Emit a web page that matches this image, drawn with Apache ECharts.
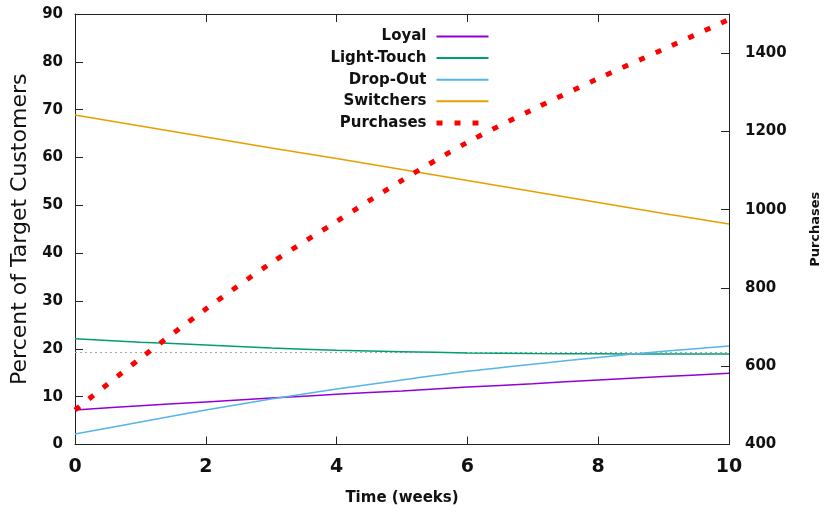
<!DOCTYPE html>
<html>
<head>
<meta charset="utf-8">
<title>Customer segments over time</title>
<script src="https://cdn.jsdelivr.net/npm/echarts@6/dist/echarts.min.js"></script>
<style>
  html, body { margin: 0; padding: 0; background: #fff; }
  #chart { width: 830px; height: 512px; }
</style>
</head>
<body>
<div id="chart"></div>
<script>
// Weeks since launch
const weeks = [0, 1, 2, 3, 4, 5, 6, 7, 8, 9, 10];

// Share of target customers per segment (%)
const loyal      = [7.2, 8.1, 8.9, 9.7, 10.5, 11.2, 12.0, 12.7, 13.5, 14.2, 14.9];
const lightTouch = [22.1, 21.4, 20.8, 20.2, 19.7, 19.4, 19.15, 19.0, 18.95, 18.9, 18.9];
const dropOut    = [2.2, 4.7, 7.2, 9.5, 11.6, 13.5, 15.3, 16.8, 18.2, 19.5, 20.6];
const switchers  = [68.9, 66.6, 64.3, 62.0, 59.8, 57.5, 55.2, 52.9, 50.6, 48.3, 46.1];

// Cumulative purchases (right axis)
const purchases  = [488, 620, 746, 864, 970, 1075, 1172, 1256, 1335, 1410, 1486];

// Steady-state level for the light-touch segment
const referenceLevel = 19.2;

const seriesNames = ['Loyal', 'Light-Touch', 'Drop-Out', 'Switchers', 'Purchases'];

const pairs = (ys) => weeks.map((w, i) => [w, ys[i]]);

const FONT = '"DejaVu Sans", Verdana, sans-serif';
const INK = '#111';
const PURCHASE_DASH = [6, 12];

const chart = echarts.init(document.getElementById('chart'), null, { renderer: 'canvas' });

const segLine = (name, data, color) => ({
  name,
  type: 'line',
  xAxisIndex: 0,
  yAxisIndex: 0,
  data: pairs(data),
  smooth: 0.3,
  symbol: 'none',
  showSymbol: false,
  lineStyle: { color, width: 1.5 },
  itemStyle: { color },
  z: 3
});

const lightTouchSeries = segLine(seriesNames[1], lightTouch, '#009e73');
lightTouchSeries.markLine = {
  silent: true,
  symbol: ['none', 'none'],
  label: { show: false },
  lineStyle: { color: '#a8a8a8', type: [2, 3], width: 1 },
  data: [{ yAxis: referenceLevel }],
  z: 2
};

chart.setOption({
  animation: false,
  backgroundColor: '#fff',
  grid: { left: 75, right: 97, top: 14, bottom: 67.5, containLabel: false },
  legend: {
    orient: 'vertical',
    right: 334,
    top: 24,
    align: 'right',
    itemWidth: 52,
    itemHeight: 14,
    itemGap: 6.6,
    selectedMode: false,
    itemStyle: { opacity: 0 },
    data: seriesNames.map((name) =>
      name === 'Purchases'
        ? { name, lineStyle: { width: 5, type: PURCHASE_DASH, cap: 'butt' } }
        : { name }
    ),
    textStyle: {
      fontFamily: FONT,
      fontWeight: 'bold',
      fontSize: 15,
      color: INK,
      width: 130,
      align: 'right',
      padding: [0, 5, 0, 0]
    }
  },
  xAxis: [
    {
      type: 'value',
      position: 'bottom',
      min: 0, max: 10, interval: 2,
      axisLine: { show: true, onZero: false, lineStyle: { color: '#222', width: 1 } },
      axisTick: { show: true, inside: true, length: 8, lineStyle: { color: '#222' } },
      splitLine: { show: false },
      axisLabel: { fontFamily: FONT, fontWeight: 'bold', fontSize: 19, color: INK, margin: 13 },
      name: 'Time (weeks)',
      nameLocation: 'middle',
      nameGap: 46,
      nameTextStyle: { fontFamily: FONT, fontWeight: 'bold', fontSize: 15, color: INK }
    },
    {
      type: 'value',
      position: 'top',
      min: 0, max: 10, interval: 2,
      axisLine: { show: true, onZero: false, lineStyle: { color: '#222', width: 1 } },
      axisTick: { show: true, inside: true, length: 8, lineStyle: { color: '#222' } },
      splitLine: { show: false },
      axisLabel: { show: false }
    }
  ],
  yAxis: [
    {
      type: 'value',
      position: 'left',
      min: 0, max: 90, interval: 10,
      axisLine: { show: true, onZero: false, lineStyle: { color: '#222', width: 1 } },
      axisTick: { show: true, inside: true, length: 8, lineStyle: { color: '#222' } },
      splitLine: { show: false },
      axisLabel: { fontFamily: FONT, fontWeight: 'bold', fontSize: 15, color: INK, margin: 12 },
      name: 'Percent of Target Customers',
      nameLocation: 'middle',
      nameRotate: 90,
      nameGap: 42,
      nameTextStyle: { fontFamily: FONT, fontSize: 22, color: INK }
    },
    {
      type: 'value',
      position: 'right',
      min: 400, max: 1500, interval: 200,
      axisLine: { show: true, onZero: false, lineStyle: { color: '#222', width: 1 } },
      axisTick: { show: true, inside: true, length: 8, lineStyle: { color: '#222' } },
      splitLine: { show: false },
      axisLabel: {
        fontFamily: FONT, fontWeight: 'bold', fontSize: 15, color: INK, margin: 16,
        showMaxLabel: false,
        formatter: (v) => (v % 200 === 0 ? String(v) : '')
      },
      name: 'Purchases',
      nameLocation: 'middle',
      nameRotate: 90,
      nameGap: 80,
      nameTextStyle: { fontFamily: FONT, fontWeight: 'bold', fontSize: 13, color: INK }
    }
  ],
  series: [
    segLine(seriesNames[0], loyal, '#9400d3'),
    lightTouchSeries,
    segLine(seriesNames[2], dropOut, '#56b4e9'),
    segLine(seriesNames[3], switchers, '#e69f00'),
    {
      name: seriesNames[4],
      type: 'line',
      xAxisIndex: 0,
      yAxisIndex: 1,
      data: pairs(purchases),
      smooth: 0.3,
      symbol: 'none',
      showSymbol: false,
      lineStyle: { color: '#ff0000', width: 5, type: PURCHASE_DASH, cap: 'butt' },
      itemStyle: { color: '#ff0000' },
      z: 4
    }
  ]
});
</script>
</body>
</html>
